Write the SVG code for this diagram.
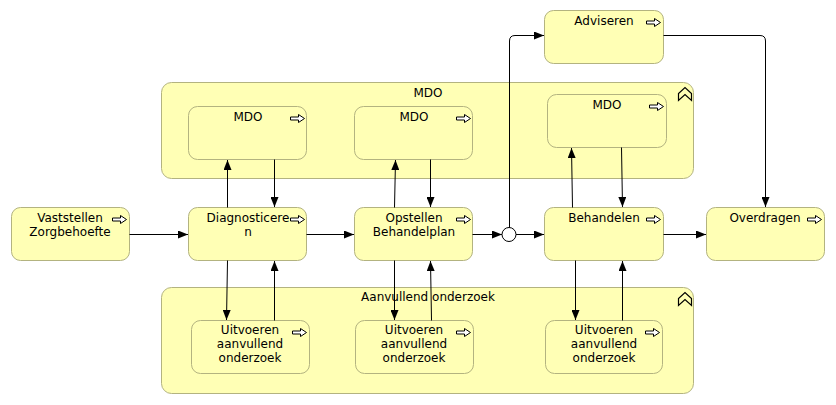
<svg xmlns="http://www.w3.org/2000/svg" width="836" height="405" viewBox="0 0 836 405">
<style>
.grp{fill:#ffffb5;stroke:#b3b380;stroke-width:1}
.node{fill:#ffffb5;stroke:#b3b380;stroke-width:1}
.t{font-family:"DejaVu Sans",Verdana,sans-serif;font-size:12px;fill:#000;text-anchor:middle}
.ic{fill:#ffffff;stroke:#000;stroke-width:1}
.cv{fill:none;stroke:#000;stroke-width:1.2}
.c{fill:none;stroke:#000;stroke-width:1}
</style>
<defs>
<marker id="ah" viewBox="0 0 10 8" refX="10" refY="4" markerWidth="10" markerHeight="8" markerUnits="userSpaceOnUse" orient="auto">
<path d="M0,0 L10,4 L0,8 Z" fill="#000"/>
</marker>
<path id="arr" d="M0,2.5 H8 V0 L14,4 L8,8 V5.5 H0 Z"/>
<path id="chev" d="M0,13 V6 L6.5,0 L13,6 V13 L6.5,7 Z"/>
</defs>

<g id="group-mdo">
<rect class="grp" x="161.5" y="82.5" width="532" height="96" rx="10"/>
<text class="t" x="428" y="97">MDO</text>
<use href="#chev" class="cv" x="678.5" y="87.5"/>
</g>
<g id="group-aanvullend">
<rect class="grp" x="161.5" y="287.5" width="532" height="106" rx="10"/>
<text class="t" x="428" y="301">Aanvullend onderzoek</text>
<use href="#chev" class="cv" x="678.5" y="292.5"/>
</g>

<g id="mdo1">
<rect class="node" x="188.5" y="106.5" width="118" height="53" rx="9"/>
<text class="t" x="248" y="121">MDO</text>
<use href="#arr" class="ic" x="290.5" y="114.5"/>
</g>
<g id="mdo2">
<rect class="node" x="354.5" y="106.5" width="118" height="53" rx="9"/>
<text class="t" x="414" y="121">MDO</text>
<use href="#arr" class="ic" x="456.5" y="114.5"/>
</g>
<g id="mdo3">
<rect class="node" x="547.5" y="94.5" width="119" height="53" rx="9"/>
<text class="t" x="607" y="109">MDO</text>
<use href="#arr" class="ic" x="649.5" y="102.5"/>
</g>

<g id="vaststellen">
<rect class="node" x="11.5" y="207.5" width="118" height="53" rx="9"/>
<text class="t" x="70" y="222">Vaststellen</text>
<text class="t" x="70" y="236">Zorgbehoefte</text>
<use href="#arr" class="ic" x="112.5" y="215.5"/>
</g>
<g id="diagnosticeren">
<rect class="node" x="188.5" y="207.5" width="118" height="53" rx="9"/>
<text class="t" x="248" y="222">Diagnosticere</text>
<text class="t" x="248" y="236">n</text>
<use href="#arr" class="ic" x="290.5" y="215.5"/>
</g>
<g id="opstellen">
<rect class="node" x="354.5" y="207.5" width="118" height="53" rx="9"/>
<text class="t" x="414" y="222">Opstellen</text>
<text class="t" x="414" y="236">Behandelplan</text>
<use href="#arr" class="ic" x="456.5" y="215.5"/>
</g>
<g id="behandelen">
<rect class="node" x="544.5" y="207.5" width="119" height="53" rx="9"/>
<text class="t" x="604" y="222">Behandelen</text>
<use href="#arr" class="ic" x="646.5" y="215.5"/>
</g>
<g id="overdragen">
<rect class="node" x="706.5" y="207.5" width="118" height="53" rx="9"/>
<text class="t" x="765" y="222">Overdragen</text>
<use href="#arr" class="ic" x="807.5" y="215.5"/>
</g>
<g id="adviseren">
<rect class="node" x="544.5" y="10.5" width="119" height="53" rx="9"/>
<text class="t" x="604" y="25">Adviseren</text>
<use href="#arr" class="ic" x="646.5" y="18.5"/>
</g>

<g id="uitvoeren1">
<rect class="node" x="191.5" y="320.5" width="118" height="53" rx="9"/>
<text class="t" x="250" y="334">Uitvoeren</text>
<text class="t" x="250" y="348">aanvullend</text>
<text class="t" x="250" y="362">onderzoek</text>
<use href="#arr" class="ic" x="292.5" y="328.5"/>
</g>
<g id="uitvoeren2">
<rect class="node" x="355.5" y="320.5" width="118" height="53" rx="9"/>
<text class="t" x="414" y="334">Uitvoeren</text>
<text class="t" x="414" y="348">aanvullend</text>
<text class="t" x="414" y="362">onderzoek</text>
<use href="#arr" class="ic" x="456.5" y="328.5"/>
</g>
<g id="uitvoeren3">
<rect class="node" x="545.5" y="320.5" width="117" height="53" rx="9"/>
<text class="t" x="604" y="334">Uitvoeren</text>
<text class="t" x="604" y="348">aanvullend</text>
<text class="t" x="604" y="362">onderzoek</text>
<use href="#arr" class="ic" x="645.5" y="328.5"/>
</g>

<g id="junction">
<circle cx="509" cy="234.5" r="7" fill="#fff" stroke="#000" stroke-width="1"/>
</g>

<g id="connectors">
<path class="c" d="M129.5,234.5 H188" marker-end="url(#ah)"/>
<path class="c" d="M306.5,234.5 H354" marker-end="url(#ah)"/>
<path class="c" d="M472.5,234.5 H502" marker-end="url(#ah)"/>
<path class="c" d="M516,234.5 H544" marker-end="url(#ah)"/>
<path class="c" d="M663.5,234.5 H706" marker-end="url(#ah)"/>
<path class="c" d="M509.5,227.5 V41 Q509.5,35.5 515,35.5 H544" marker-end="url(#ah)"/>
<path class="c" d="M663.5,35.5 H760 Q765.5,35.5 765.5,41 V207" marker-end="url(#ah)"/>

<path class="c" d="M227.5,207.5 V160" marker-end="url(#ah)"/>
<path class="c" d="M274.5,159.5 V207" marker-end="url(#ah)"/>
<path class="c" d="M394.5,207.5 L395.5,160" marker-end="url(#ah)"/>
<path class="c" d="M430.5,159.5 V207" marker-end="url(#ah)"/>
<path class="c" d="M572.5,207.5 L571.5,148" marker-end="url(#ah)"/>
<path class="c" d="M621.5,147.5 L622.5,207" marker-end="url(#ah)"/>

<path class="c" d="M227.5,260.5 L226.5,320" marker-end="url(#ah)"/>
<path class="c" d="M274.5,320.5 V261" marker-end="url(#ah)"/>
<path class="c" d="M394.5,260.5 V320" marker-end="url(#ah)"/>
<path class="c" d="M431.5,320.5 L430.5,261" marker-end="url(#ah)"/>
<path class="c" d="M575.5,260.5 V320" marker-end="url(#ah)"/>
<path class="c" d="M622.5,320.5 V261" marker-end="url(#ah)"/>
</g>
</svg>
